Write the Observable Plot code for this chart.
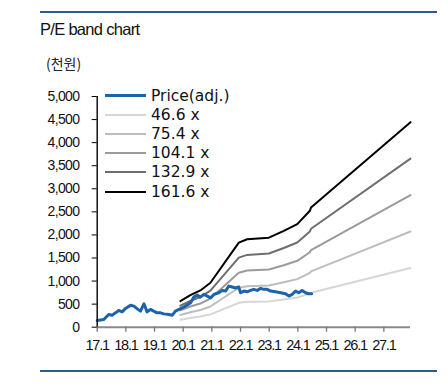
<!DOCTYPE html>
<html><head><meta charset="utf-8">
<script src="https://cdn.jsdelivr.net/npm/d3@7"></script>
<script src="https://cdn.jsdelivr.net/npm/@observablehq/plot@0.6"></script>
<style>
body{margin:0;background:#fff;}
#wrap{position:relative;width:448px;height:387px;overflow:hidden;font-family:"Liberation Sans",Arial,sans-serif;}
#wrap svg{position:absolute;left:0;top:0;}
.rule{position:absolute;left:40px;width:397px;height:2px;background:#2b5c8c;}
#title{position:absolute;left:40px;top:19px;font-size:16.5px;letter-spacing:-0.7px;color:#111;line-height:20px;}
#unit{position:absolute;left:46px;top:53px;font-family:"Noto Sans CJK KR",sans-serif;font-size:14px;color:#222;line-height:20px;}
#legend{position:absolute;left:105px;top:86px;font-family:"DejaVu Sans",sans-serif;font-size:15.5px;color:#111;}
.row{height:19.2px;display:flex;align-items:center;white-space:nowrap;}
.sw{width:41px;margin-right:5px;}
</style>
</head><body>
<div id="wrap">
  <div class="rule" style="top:11px"></div>
  <div id="title">P/E band chart</div>
  <div id="unit">(천원)</div>
  <div class="rule" style="top:370px"></div>
</div>
<script>
// Price (thousand won)
const priceYears = [2017.00,2017.23,2017.40,2017.52,2017.64,2017.75,2017.87,2017.99,2018.16,2018.28,2018.40,2018.51,2018.63,2018.74,2018.86,2018.97,2019.09,2019.21,2019.32,2019.50,2019.62,2019.73,2019.85,2019.97,2020.08,2020.26,2020.37,2020.49,2020.60,2020.72,2020.84,2020.96,2021.07,2021.24,2021.36,2021.48,2021.59,2021.71,2021.83,2021.94,2022.00,2022.12,2022.23,2022.35,2022.46,2022.58,2022.70,2022.81,2022.93,2023.05,2023.22,2023.40,2023.57,2023.69,2023.80,2023.92,2024.03,2024.15,2024.27,2024.38,2024.48];
const priceValues = [146,167,276,261,311,363,333,407,478,457,398,348,507,333,385,348,311,311,289,276,261,348,385,420,457,528,652,696,652,711,674,637,711,746,797,783,891,870,850,870,746,783,767,797,820,797,841,820,820,783,767,746,724,674,711,783,746,797,746,724,724];
// EPS (thousand won) behind the bands
const epsYears = [2019.90,2020.25,2020.60,2020.95,2021.94,2022.23,2022.99,2023.51,2023.98,2024.42,2024.46,2027.93];
const epsValues = [3.50,4.30,4.93,5.96,11.34,11.79,12.01,12.91,13.82,15.61,16.05,27.5];
const multiples = [46.6,75.4,104.1,132.9,161.6];
const bandLabels = ["46.6 x","75.4 x","104.1 x","132.9 x","161.6 x"];
const bandColors = ["#d6d6d6","#bdbdbd","#9b9b9b","#6e6e6e","#000000"];
const priceLabel = "Price(adj.)";
const priceColor = "#1d63aa";
const yTicks = [0,500,1000,1500,2000,2500,3000,3500,4000,4500,5000];
const xTicks = [2017,2018,2019,2020,2021,2022,2023,2024,2025,2026,2027];
const xTickLabels = ["17.1","18.1","19.1","20.1","21.1","22.1","23.1","24.1","25.1","26.1","27.1"];

const priceRows = priceYears.map((x,i)=>({x, y:priceValues[i]}));
const bandMarks = multiples.map((m,i)=>Plot.lineY(epsYears.map((x,j)=>({x, y:epsValues[j]*m})),
  {x:"x", y:"y", stroke:bandColors[i], strokeWidth:2}));

const chart = Plot.plot({
  width:448, height:387,
  marginTop:96, marginBottom:60.3, marginLeft:96.7, marginRight:38,
  style:{fontFamily:"'Liberation Sans', Arial, sans-serif", fontSize:"14px", color:"#111", background:"transparent", letterSpacing:"-0.6px"},
  x:{domain:[2017,2027.93]},
  y:{domain:[0,5000]},
  marks:[
    ...bandMarks,
    Plot.lineY(priceRows,{x:"x", y:"y", stroke:priceColor, strokeWidth:3, strokeLinejoin:"round"}),
    Plot.ruleY([0],{x1:2017, x2:2027.93, stroke:"#8a8a8a", strokeWidth:2}),
    Plot.ruleX([2017],{y1:0, y2:5000, stroke:"#000", strokeWidth:1.4}),
    Plot.axisX({ticks:xTicks, tickFormat:(d,i)=>xTickLabels[xTicks.indexOf(d)], tickSize:5, tickPadding:8, stroke:"#777", strokeWidth:1.3, label:null, fontSize:14.5, fill:"#111"}),
    Plot.axisY({ticks:yTicks, tickFormat:d3.format(","), tickSize:5, tickPadding:12.7, stroke:"#000", label:null, fontSize:14, fill:"#111"})
  ]
});
document.getElementById("wrap").prepend(chart);
chart.querySelectorAll('[aria-label="x-axis tick label"] text').forEach(t=>t.style.letterSpacing="-1.2px");

// legend
const leg = document.createElement("div");
leg.id = "legend";
const entries = [[priceLabel, priceColor, 3], ...bandLabels.map((l,i)=>[l, bandColors[i], 2])];
for (const [label,color,w] of entries) {
  const row = document.createElement("div"); row.className="row";
  const sw = document.createElement("div"); sw.className="sw";
  sw.style.height = w+"px"; sw.style.background = color;
  const tx = document.createElement("span"); tx.textContent = label;
  row.append(sw, tx); leg.append(row);
}
document.getElementById("wrap").append(leg);
</script>
</body></html>
